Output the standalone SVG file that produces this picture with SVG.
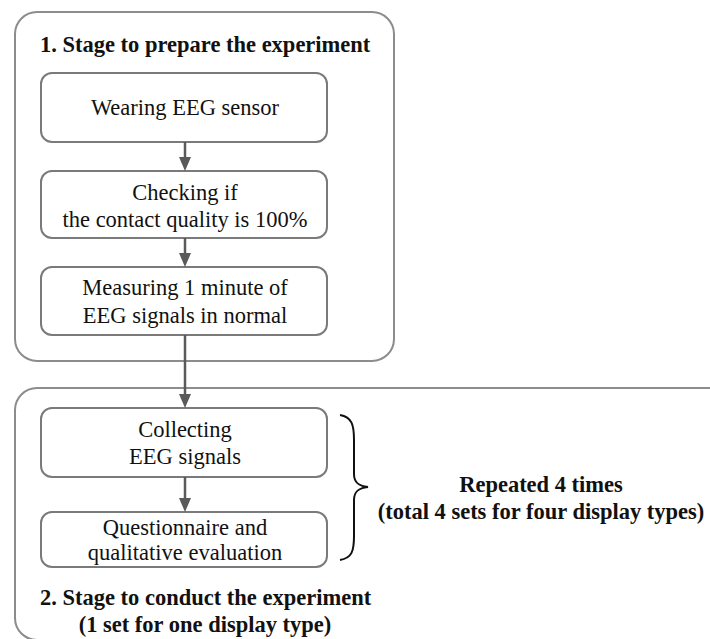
<svg xmlns="http://www.w3.org/2000/svg" width="710" height="639" viewBox="0 0 710 639">
<defs>
<style>
.stage{fill:none;stroke:#8c8c8c;stroke-width:2}
.box{fill:#fff;stroke:#7a7a7a;stroke-width:2}
.t{font-family:"Liberation Serif","Times New Roman",serif;font-size:22.5px;fill:#111;text-anchor:middle}
.b{font-family:"Liberation Serif","Times New Roman",serif;font-size:22.5px;font-weight:bold;fill:#111}
.conn{stroke:#5a5a5a;stroke-width:2.5;fill:none}
.head{fill:#5a5a5a}
</style>
</defs>
<rect width="710" height="639" fill="#fff"/>
<g id="stage1">
<rect class="stage" x="15" y="12" width="379" height="349" rx="22"/>
<text class="b" x="40" y="52">1. Stage to prepare the experiment</text>
</g>
<g id="stage2">
<rect class="stage" x="15" y="388" width="716" height="252" rx="22"/>
<text class="b" x="40" y="605">2. Stage to conduct the experiment</text>
<text class="b" x="205" y="632" text-anchor="middle">(1 set for one display type)</text>
</g>
<g id="n1">
<rect class="box" x="41" y="73" width="286" height="69" rx="11"/>
<text class="t" x="185" y="115">Wearing EEG sensor</text>
</g>
<g id="n2">
<rect class="box" x="41" y="171" width="286" height="67" rx="11"/>
<text class="t" x="185" y="200">Checking if</text>
<text class="t" x="185" y="227">the contact quality is 100%</text>
</g>
<g id="n3">
<rect class="box" x="41" y="267" width="286" height="68" rx="11"/>
<text class="t" x="185" y="295">Measuring 1 minute of</text>
<text class="t" x="185" y="323">EEG signals in normal</text>
</g>
<g id="n4">
<rect class="box" x="41" y="408" width="286" height="69" rx="11"/>
<text class="t" x="185" y="437">Collecting</text>
<text class="t" x="185" y="464">EEG signals</text>
</g>
<g id="n5">
<rect class="box" x="41" y="512" width="286" height="55" rx="11"/>
<text class="t" x="185" y="535">Questionnaire and</text>
<text class="t" x="185" y="560">qualitative evaluation</text>
</g>
<g id="repeat">
<path d="M340,415 C352,417 354,425 354,440 L354,474 C354,482 358,486 368,487 C358,488 354,492 354,500 L354,536 C354,551 352,558 340,560" fill="none" stroke="#111" stroke-width="2"/>
<text class="b" x="541" y="492" text-anchor="middle">Repeated 4 times</text>
<text class="b" x="541" y="519" text-anchor="middle">(total 4 sets for four display types)</text>
</g>
<g id="connectors">
<line class="conn" x1="185" y1="142" x2="185" y2="158"/>
<path class="head" d="M179,157 L191,157 L185,171 Z"/>
<line class="conn" x1="185" y1="238" x2="185" y2="254"/>
<path class="head" d="M179,253 L191,253 L185,267 Z"/>
<line class="conn" x1="185" y1="335" x2="185" y2="395"/>
<path class="head" d="M179,394 L191,394 L185,408 Z"/>
<line class="conn" x1="185" y1="477" x2="185" y2="499"/>
<path class="head" d="M179,498 L191,498 L185,512 Z"/>
</g>
</svg>
